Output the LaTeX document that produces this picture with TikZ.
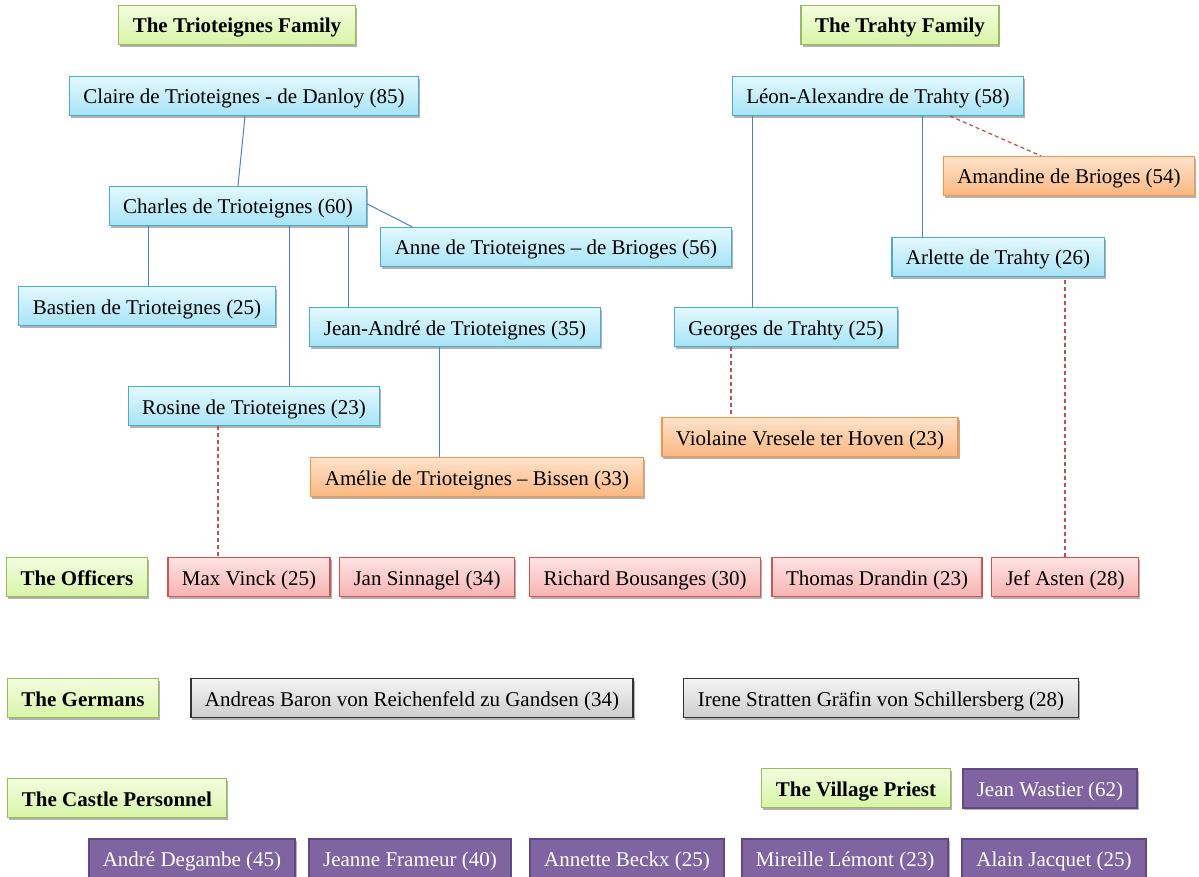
\documentclass[tikz,border=0pt]{standalone}
\usepackage{fontspec}
\setmainfont{Liberation Serif}
\usetikzlibrary{shadows}

\definecolor{bluetop}{HTML}{E4F8FE}
\definecolor{bluebot}{HTML}{A6E4F7}
\definecolor{blueedge}{HTML}{4BACC6}
\definecolor{orangetop}{HTML}{FEE3CC}
\definecolor{orangebot}{HTML}{FBB77F}
\definecolor{orangeedge}{HTML}{F79646}
\definecolor{redtop}{HTML}{FDE3E3}
\definecolor{redbot}{HTML}{F9B3B3}
\definecolor{rededge}{HTML}{D05452}
\definecolor{graytop}{HTML}{F4F4F4}
\definecolor{graybot}{HTML}{CDCDCD}
\definecolor{purplefill}{HTML}{8064A2}
\definecolor{purpleedge}{HTML}{5E4A80}
\definecolor{greentop}{HTML}{F3FCDF}
\definecolor{greenbot}{HTML}{D8F5A6}
\definecolor{greenedge}{HTML}{9BBB59}
\definecolor{kinline}{HTML}{4F81BD}
\definecolor{loveline}{HTML}{C0504D}

\tikzset{
    box/.style={draw, line width=1.1pt, inner xsep=14pt, inner ysep=0pt,
        minimum height=39pt, text height=18pt, text depth=2pt,
        drop shadow={shadow xshift=1.5pt, shadow yshift=-2.5pt, opacity=0.3, fill=black}},
    family/.style={box, draw=blueedge, top color=bluetop, bottom color=bluebot},
    inlaw/.style={box, draw=orangeedge, top color=orangetop, bottom color=orangebot},
    officer/.style={box, draw=rededge, top color=redtop, bottom color=redbot},
    german/.style={box, draw=black!80, top color=graytop, bottom color=graybot},
    villager/.style={box, draw=purpleedge, line width=2pt, fill=purplefill, text=white},
    grouptitle/.style={box, draw=greenedge, top color=greentop, bottom color=greenbot, font=\fontsize{21}{25}\selectfont\bfseries},
    kin/.style={draw=kinline, line width=1pt},
    love/.style={draw=loveline, line width=1.2pt, dashed, dash pattern=on 4pt off 3pt}
}

\begin{document}
\begin{tikzpicture}[x=1pt, y=-1pt, font=\fontsize{21}{25}\selectfont]
    \useasboundingbox (0,0) rectangle (1199,877);

    % Group titles
    \node[grouptitle] (t_trio) at (237,25) {The Trioteignes Family};
    \node[grouptitle] (t_trahty) at (900,25) {The Trahty Family};
    \node[grouptitle] (t_officers) at (77,577) {The Officers};
    \node[grouptitle] (t_germans) at (83,698) {The Germans};
    \node[grouptitle] (t_castle) at (117,798) {The Castle Personnel};
    \node[grouptitle] (t_priest) at (856,788) {The Village Priest};

    % The Trioteignes Family
    \node[family] (claire) at (244,96) {Claire de Trioteignes - de Danloy (85)};
    \node[family] (charles) at (238,206) {Charles de Trioteignes (60)};
    \node[family] (anne) at (556,247) {Anne de Trioteignes – de Brioges (56)};
    \node[family] (bastien) at (147,306) {Bastien de Trioteignes (25)};
    \node[family] (jeanandre) at (455,327) {Jean-André de Trioteignes (35)};
    \node[family] (rosine) at (254,406) {Rosine de Trioteignes (23)};
    \node[inlaw] (amelie) at (477,477) {Amélie de Trioteignes – Bissen (33)};

    % The Trahty Family
    \node[family] (leon) at (878,96) {Léon-Alexandre de Trahty (58)};
    \node[inlaw] (amandine) at (1069,176) {Amandine de Brioges (54)};
    \node[family] (arlette) at (998,257) {Arlette de Trahty (26)};
    \node[family] (georges) at (786,327) {Georges de Trahty (25)};
    \node[inlaw] (violaine) at (810,437) {Violaine Vresele ter Hoven (23)};

    % The Officers
    \node[officer] (max) at (249,577) {Max Vinck (25)};
    \node[officer] (jan) at (427,577) {Jan Sinnagel (34)};
    \node[officer] (richard) at (645,577) {Richard Bousanges (30)};
    \node[officer] (thomas) at (877,577) {Thomas Drandin (23)};
    \node[officer] (jef) at (1065,577) {Jef Asten (28)};

    % The Germans
    \node[german] (andreas) at (412,698) {Andreas Baron von Reichenfeld zu Gandsen (34)};
    \node[german] (irene) at (881,698) {Irene Stratten Gräfin von Schillersberg (28)};

    % The Village Priest and the Castle Personnel
    \node[villager] (jean) at (1050,788) {Jean Wastier (62)};
    \node[villager] (andre) at (192,858) {André Degambe (45)};
    \node[villager] (jeanne) at (410,858) {Jeanne Frameur (40)};
    \node[villager] (annette) at (627,858) {Annette Beckx (25)};
    \node[villager] (mireille) at (845,858) {Mireille Lémont (23)};
    \node[villager] (alain) at (1054,858) {Alain Jacquet (25)};

    % Family lines
    \draw[kin] ([xshift=1pt]claire.south) -- (charles.north);
    \draw[kin] ([yshift=2pt]charles.east) -- ([xshift=32pt]anne.north west);
    \draw[kin] ([xshift=1pt]bastien.north) -- ([xshift=1pt]bastien.north |- charles.south);
    \draw[kin] ([xshift=35pt]rosine.north) -- ([xshift=35pt]rosine.north |- charles.south);
    \draw[kin] ([xshift=39pt]jeanandre.north west) -- ([xshift=39pt]jeanandre.north west |- charles.south);
    \draw[kin] ([xshift=-38pt]amelie.north) -- ([xshift=-38pt]amelie.north |- jeanandre.south);
    \draw[kin] ([xshift=21pt]leon.south west) -- ([xshift=21pt]leon.south west |- georges.north);
    \draw[kin] ([xshift=31pt]arlette.north west) -- ([xshift=31pt]arlette.north west |- leon.south);

    % Partner lines
    \draw[love] ([xshift=72pt]leon.south) -- ([xshift=-28pt]amandine.north);
    \draw[love] ([xshift=-55pt]georges.south) -- ([xshift=-55pt]georges.south |- violaine.north);
    \draw[love] ([xshift=-36pt]rosine.south) -- ([xshift=-36pt]rosine.south |- max.north);
    \draw[love] (jef.north) -- (jef.north |- arlette.south);
\end{tikzpicture}
\end{document}
